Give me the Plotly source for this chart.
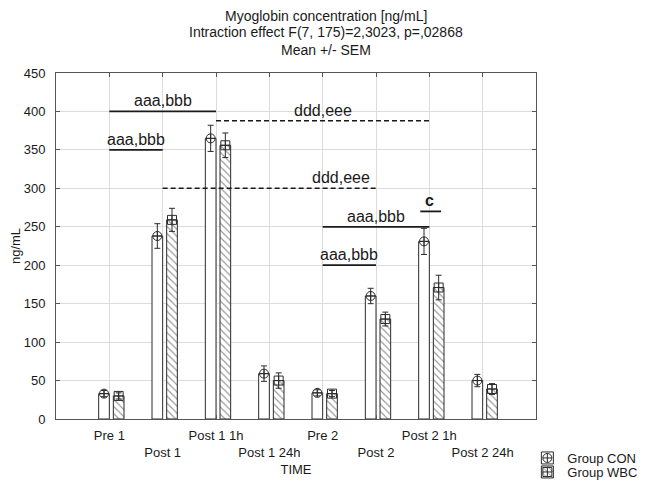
import numpy as np
import plotly.graph_objects as go

# ---------------- data ----------------
categories = ["Pre 1", "Post 1", "Post 1 1h", "Post 1 24h",
              "Pre 2", "Post 2", "Post 2 1h", "Post 2 24h"]
con_mean = [33, 238, 365, 59, 34, 160, 231, 50]
con_sem = [4, 16, 17, 10, 4, 10, 17, 8]
wbc_mean = [30, 259, 356, 50, 33, 130, 171, 39]
wbc_sem = [4, 15, 16, 10, 4, 9, 16, 7]

y_ticks = [0, 50, 100, 150, 200, 250, 300, 350, 400, 450]

# significance brackets (x in category index units, 1 = "Pre 1")
sig_x0 = [1, 1, 3, 2, 5, 5, 6.83]
sig_x1 = [2, 3, 7, 6, 6, 7, 7.22]
sig_y = [350, 400, 388, 300, 200, 250, 270]
sig_text = ["aaa,bbb", "aaa,bbb", "ddd,eee", "ddd,eee", "aaa,bbb", "aaa,bbb", "<b>c</b>"]
sig_text_x = [1.5, 2, 5, 5.35, 5.5, 6, 7.0]
sig_dash = ["solid", "solid", "5px,3px", "5px,3px", "solid", "solid", "solid"]

title_lines = ["Myoglobin concentration [ng/mL]",
               "Intraction effect F(7, 175)=2,3023, p=,02868",
               "Mean +/- SEM"]

# ---------------- layout helpers ----------------
FONT = "Liberation Sans, Arial, sans-serif"
DARK = "#2b2b2b"
idx = np.arange(1, len(categories) + 1)
bar_w = 0.2
con_x = idx - 0.1
wbc_x = idx + 0.175

tick_text = [c if i % 2 == 0 else "<br>" + c for i, c in enumerate(categories)]

fig = go.Figure()

fig.add_trace(go.Bar(
    x=con_x, y=con_mean, width=bar_w, name="Group CON",
    marker=dict(color="white", line=dict(color=DARK, width=1)),
    legend="legend", showlegend=True, hoverinfo="skip"))
fig.add_trace(go.Bar(
    x=wbc_x, y=wbc_mean, width=bar_w, name="Group WBC",
    marker=dict(color="white", line=dict(color=DARK, width=1),
                pattern=dict(shape="\\", fgcolor=DARK, bgcolor="white",
                             size=5, solidity=0.22)),
    legend="legend2", showlegend=True, hoverinfo="skip"))

# mean markers with SEM error bars (legend symbol only, overlaid on bar swatches)
fig.add_trace(go.Scatter(
    x=con_x, y=con_mean, mode="markers", name="",
    marker=dict(symbol="circle-cross-open", size=9, color=DARK,
                line=dict(width=1, color=DARK)),
    error_y=dict(type="data", array=con_sem, color=DARK, thickness=1, width=3),
    legend="legend3", showlegend=True))
fig.add_trace(go.Scatter(
    x=wbc_x, y=wbc_mean, mode="markers", name="",
    marker=dict(symbol="square-cross-open", size=9, color=DARK,
                line=dict(width=1, color=DARK)),
    error_y=dict(type="data", array=wbc_sem, color=DARK, thickness=1, width=3),
    legend="legend4", showlegend=True))

# significance lines and labels
for x0, x1, y, txt, tx, dash in zip(sig_x0, sig_x1, sig_y, sig_text, sig_text_x, sig_dash):
    fig.add_shape(type="line", xref="x", yref="y", x0=x0, x1=x1, y0=y, y1=y,
                  line=dict(color="#1a1a1a", width=1.8 if dash == "solid" else 1.5, dash=dash))
    fig.add_annotation(x=tx, y=y, xref="x", yref="y", text=txt, showarrow=False,
                       xanchor="center", yanchor="bottom", yshift=0,
                       font=dict(family=FONT, size=16, color="#1a1a1a"))

# title lines
title_y = [1.166, 1.119, 1.0665]
for t, ty in zip(title_lines, title_y):
    fig.add_annotation(x=0.5625, y=ty, xref="paper", yref="paper",
                       text=t, showarrow=False, xanchor="center", yanchor="middle",
                       font=dict(family=FONT, size=14, color="#1a1a1a"))

axis_common = dict(showline=True, linecolor="#555", linewidth=1, mirror="ticks",
                   ticks="inside", ticklen=4, tickcolor="#555",
                   showgrid=True, gridcolor="#dcdcdc", gridwidth=1, zeroline=False,
                   automargin=False,
                   tickfont=dict(family=FONT, size=13, color="#1a1a1a"))

leg_common = dict(x=0.982, xanchor="left", yanchor="middle",
                  bgcolor="rgba(0,0,0,0)", borderwidth=0, tracegroupgap=0)
leg_font = dict(family=FONT, size=13, color="#1a1a1a")

fig.update_layout(
    width=653, height=487,
    margin=dict(l=48, r=125, t=65, b=76, autoexpand=False),
    paper_bgcolor="white", plot_bgcolor="white",
    barmode="overlay",
    font=dict(family=FONT, size=13, color="#1a1a1a"),
    xaxis=dict(range=[0, 9], tickmode="array", tickvals=idx, ticktext=tick_text,
               tickangle=0, ticklabelstandoff=4,
               title=dict(text="TIME", font=dict(family=FONT, size=13), standoff=6),
               **axis_common),
    yaxis=dict(range=[0, 450], tickmode="array", tickvals=y_ticks,
               ticklabelstandoff=7,
               title=dict(text="ng/mL", font=dict(family=FONT, size=13), standoff=6),
               **axis_common),
    legend=dict(y=-0.1127, font=leg_font, **leg_common),
    legend2=dict(y=-0.1532, font=leg_font, **leg_common),
    legend3=dict(y=-0.1127, font=leg_font, **leg_common),
    legend4=dict(y=-0.1532, font=leg_font, **leg_common),
    showlegend=True,
)

fig.write_html("out.html")
